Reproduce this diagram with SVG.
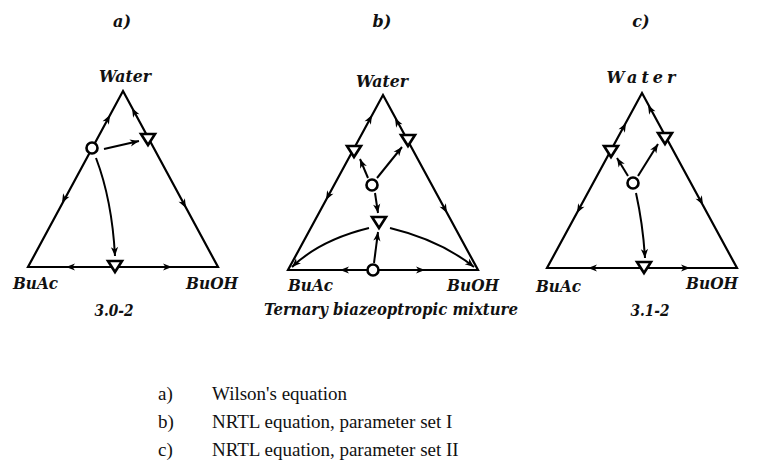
<svg xmlns="http://www.w3.org/2000/svg" xmlns:xlink="http://www.w3.org/1999/xlink" width="769" height="463" viewBox="0 0 769 463">
<style>
.edge{fill:none;stroke:#000;stroke-width:2.2;stroke-linejoin:miter}
.con{fill:none;stroke:#000;stroke-width:2}
.lbl{font-family:"DejaVu Serif","Liberation Serif",serif;font-style:italic;font-weight:bold;font-size:16px;fill:#111}
.leg{font-family:"Liberation Serif","Times New Roman",serif;font-size:19px;fill:#111}
.node{fill:#fff;stroke:#000;stroke-width:2.6}
</style>
<defs>
<path id="ah" d="M0,0 L-9,-3.6 L-6.5,0 L-9,3.6 Z" fill="#000"/>
<marker id="arr" viewBox="-10 -5 11 10" refX="0" refY="0" markerWidth="11" markerHeight="10" markerUnits="userSpaceOnUse" orient="auto">
<path d="M0,0 L-9,-3.6 L-6.5,0 L-9,3.6 Z" fill="#000"/>
</marker>
<path id="tri" d="M-7,-5 L7,-5 L0,6 Z"/>
</defs>

<!-- titles -->
<text class="lbl" x="122" y="27" text-anchor="middle" font-size="17">a)</text>
<text class="lbl" x="382" y="27" text-anchor="middle" font-size="17">b)</text>
<text class="lbl" x="641" y="27" text-anchor="middle" font-size="17">c)</text>

<!-- Diagram a -->
<g id="diagram-a">
<path class="edge" d="M123,91 L218,267 L28,267 Z"/>
<text class="lbl" x="125" y="82" text-anchor="middle" textLength="52" lengthAdjust="spacingAndGlyphs">Water</text>
<text class="lbl" x="13" y="289" textLength="45" lengthAdjust="spacingAndGlyphs">BuAc</text>
<text class="lbl" x="186" y="289" textLength="52" lengthAdjust="spacingAndGlyphs">BuOH</text>
<text class="lbl" x="114" y="316" text-anchor="middle" textLength="39" lengthAdjust="spacingAndGlyphs">3.0-2</text>
</g>
<g id="connectors-a">
<use href="#ah" transform="translate(110,115) rotate(-61.6)"/>
<use href="#ah" transform="translate(62,203) rotate(118.4)"/>
<use href="#ah" transform="translate(132,108) rotate(-118.4)"/>
<use href="#ah" transform="translate(186,208) rotate(61.6)"/>
<use href="#ah" transform="translate(66,267) rotate(180)"/>
<use href="#ah" transform="translate(172,267)"/>
<path class="con" d="M104,149 L139,141" marker-end="url(#arr)"/>
<path class="con" d="M96,158 Q112,200 115,256" marker-end="url(#arr)"/>
</g>
<g id="nodes-a">
<circle id="a-n1" class="node" cx="92" cy="148" r="5.5"/>
<use id="a-n2" href="#tri" class="node" transform="translate(148,139)"/>
<use id="a-n3" href="#tri" class="node" transform="translate(115,266)"/>
</g>

<!-- Diagram b -->
<g id="diagram-b">
<path class="edge" d="M383,95 L478,270 L288,270 Z"/>
<text class="lbl" x="382" y="87" text-anchor="middle" textLength="52" lengthAdjust="spacingAndGlyphs">Water</text>
<text class="lbl" x="288" y="291" textLength="45" lengthAdjust="spacingAndGlyphs">BuAc</text>
<text class="lbl" x="447" y="291" textLength="52" lengthAdjust="spacingAndGlyphs">BuOH</text>
<text class="lbl" x="391" y="315" text-anchor="middle" textLength="254" lengthAdjust="spacingAndGlyphs">Ternary biazeoptropic mixture</text>
</g>
<g id="connectors-b">
<use href="#ah" transform="translate(372,115) rotate(-61.5)"/>
<use href="#ah" transform="translate(326,200) rotate(118.5)"/>
<use href="#ah" transform="translate(395,118) rotate(-118.5)"/>
<use href="#ah" transform="translate(447,213) rotate(61.5)"/>
<use href="#ah" transform="translate(340,270) rotate(180)"/>
<use href="#ah" transform="translate(425,270)"/>
<path class="con" d="M368,178 L360,159" marker-end="url(#arr)"/>
<path class="con" d="M377,178 L402,147" marker-end="url(#arr)"/>
<path class="con" d="M375,193 L378,213" marker-end="url(#arr)"/>
<path class="con" d="M369,228 Q320,240 292,267" marker-end="url(#arr)"/>
<path class="con" d="M390,228 Q440,240 474,267" marker-end="url(#arr)"/>
<path class="con" d="M374,263 L378,232" marker-end="url(#arr)"/>
</g>
<g id="nodes-b">
<use id="b-n1" href="#tri" class="node" transform="translate(354,151)"/>
<use id="b-n2" href="#tri" class="node" transform="translate(408,140)"/>
<circle id="b-n3" class="node" cx="372" cy="185" r="5.5"/>
<use id="b-n4" href="#tri" class="node" transform="translate(379,222)"/>
<circle id="b-n5" class="node" cx="373" cy="270" r="5.5"/>
</g>

<!-- Diagram c -->
<g id="diagram-c">
<path class="edge" d="M642,93 L737,268 L547,268 Z"/>
<text class="lbl" x="641" y="83" text-anchor="middle" textLength="69" lengthAdjust="spacing">Water</text>
<text class="lbl" x="536" y="292" textLength="45" lengthAdjust="spacingAndGlyphs">BuAc</text>
<text class="lbl" x="686" y="289" textLength="52" lengthAdjust="spacingAndGlyphs">BuOH</text>
<text class="lbl" x="650" y="316" text-anchor="middle" textLength="39" lengthAdjust="spacingAndGlyphs">3.1-2</text>
</g>
<g id="connectors-c">
<use href="#ah" transform="translate(626,123) rotate(-61.5)"/>
<use href="#ah" transform="translate(577,213) rotate(118.5)"/>
<use href="#ah" transform="translate(648,105) rotate(-118.5)"/>
<use href="#ah" transform="translate(703,205) rotate(61.5)"/>
<use href="#ah" transform="translate(588,268) rotate(180)"/>
<use href="#ah" transform="translate(690,268)"/>
<path class="con" d="M628,176 L617,158" marker-end="url(#arr)"/>
<path class="con" d="M638,176 L658,144" marker-end="url(#arr)"/>
<path class="con" d="M636,193 Q643,225 645,258" marker-end="url(#arr)"/>
</g>
<g id="nodes-c">
<use id="c-n1" href="#tri" class="node" transform="translate(611,151)"/>
<use id="c-n2" href="#tri" class="node" transform="translate(665,138)"/>
<circle id="c-n3" class="node" cx="633" cy="183" r="5.5"/>
<use id="c-n4" href="#tri" class="node" transform="translate(644,267)"/>
</g>

<!-- legend -->
<g id="legend">
<text class="leg" x="158" y="400">a)</text>
<text class="leg" x="212" y="400">Wilson's equation</text>
<text class="leg" x="158" y="428">b)</text>
<text class="leg" x="212" y="428">NRTL equation, parameter set I</text>
<text class="leg" x="158" y="456">c)</text>
<text class="leg" x="212" y="456">NRTL equation, parameter set II</text>
</g>
</svg>
